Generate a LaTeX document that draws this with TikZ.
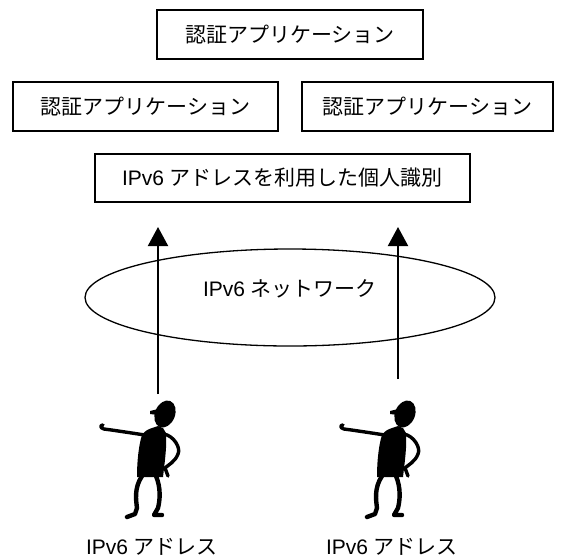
\documentclass[tikz,border=0pt]{standalone}
\usepackage{fontspec}
\setmainfont{Liberation Sans}
\newfontfamily\jp{Noto Sans CJK JP}
\usetikzlibrary{shapes,arrows.meta,positioning}

\tikzset{
    limb/.style = {line width=3.4pt, line cap=round, line join=round},
    leg/.style  = {line width=4.4pt, line cap=round, line join=round},
    % little man standing, origin between his feet
    walker/.pic = {
        \fill[rotate around={-22:(15,106)}] (15,106) ellipse (10 and 14);
        \fill (8,111) -- (0,109) -- (0,106) -- (8,105) -- cycle;
        % trunk and neck
        \fill (8,94) -- (13,92) -- (16,87)
            .. controls (17,75) and (15,60) .. (13,43)
            -- (-13,43)
            .. controls (-13,60) and (-11,76) .. (-8,85)
            .. controls (-4,90) .. (8,94) -- cycle;
        \draw[limb] (-5,85) .. controls (-25,88) and (-38,90) .. (-46,91)
            .. controls (-50,92) and (-50,95) .. (-47,95);
        \draw[limb] (14,86) .. controls (24,84) and (31,72) .. (28,66)
            .. controls (25,58) and (18,55) .. (15,52) -- (18,44);
        \draw[leg] (-8,44) .. controls (-16,32) and (-14,20) .. (-13,12)
            -- (-15,6) -- (-23,3);
        \draw[leg] (6,44) .. controls (11,32) and (10,20) .. (8,12)
            -- (4,5) -- (12,5);
    }
}

\begin{document}
\begin{tikzpicture}[x=1pt, y=1pt]

    \tikzstyle{block} = [
        rectangle,
        draw,
        line width=1.2pt,
        text centered,
        minimum height=49pt,
        font=\fontsize{21}{25}\selectfont
    ]
    \tikzstyle{cloud} = [
        ellipse,
        draw,
        line width=1.3pt,
        minimum width=410pt,
        minimum height=97pt
    ]
    \tikzstyle{line} = [
        draw,
        line width=2pt,
        -{Triangle[width=20pt,length=19pt]}
    ]
    \tikzstyle{addr} = [font=\fontsize{21}{25}\selectfont]

    \useasboundingbox (0,0) rectangle (565,-558);

    \node [block, minimum width=266pt] (app)  at (290,-34.5)   {\jp 認証アプリケーション};
    \node [block, minimum width=265pt] (appl) at (145.5,-106.5) {\jp 認証アプリケーション};
    \node [block, minimum width=251pt] (appr) at (427.5,-106.5) {\jp 認証アプリケーション};
    \node [block, minimum width=375pt, minimum height=48pt] (ident) at (282.5,-178)
        {IPv6 {\jp アドレスを利用した個人識別}};

    \node [cloud, label={[addr, yshift=-53pt]north:IPv6 {\jp ネットワーク}}] (net) at (290,-297.5) {};

    \pic at (150,-520) {walker};
    \pic at (390,-520) {walker};

    \node [addr] (addrl) at (152,-547) {IPv6 {\jp アドレス}};
    \node [addr] (addrr) at (392,-547) {IPv6 {\jp アドレス}};

    \coordinate (fromL) at (158,-394);
    \coordinate (toL)   at (158,-227);
    \coordinate (fromR) at (398,-379);
    \coordinate (toR)   at (398,-227);

    \path [line] (fromL) -- (toL);
    \path [line] (fromR) -- (toR);

\end{tikzpicture}
\end{document}
